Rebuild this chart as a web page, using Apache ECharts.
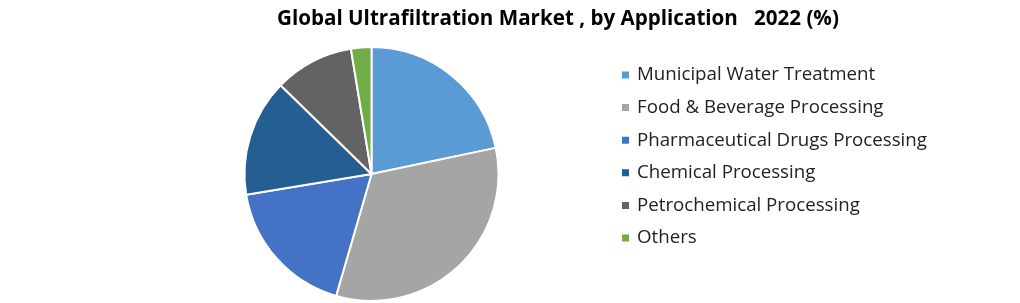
<!DOCTYPE html>
<html><head><meta charset="utf-8">
<script src="https://cdn.jsdelivr.net/npm/echarts@6/dist/echarts.min.js"></script>
<style>html,body{margin:0;padding:0;background:#fff}#c{width:1020px;height:303px}</style>
</head><body><div id="c"></div>
<script>
const categories = ["Municipal Water Treatment","Food & Beverage Processing","Pharmaceutical Drugs Processing","Chemical Processing","Petrochemical Processing","Others"];
const values = [21.7, 32.8, 17.9, 14.9, 10.1, 2.6];
const colors = ["#5B9BD5","#A5A5A5","#4472C4","#255E91","#636363","#70AD47"];
const titleText = "Global Ultrafiltration Market , by Application   2022 (%)";

const chart = echarts.init(document.getElementById('c'), null, {renderer:'canvas'});
chart.setOption({
  animation:false,
  color: colors,
  title:{text:titleText, left:272, top:4,
    textStyle:{fontFamily:'Open Sans', fontWeight:'bold', fontSize:20.6, color:'#000'}},
  legend:{orient:'vertical', left:620, top:65, padding:0, icon:'rect', itemWidth:9, itemHeight:9, itemGap:12.6,
    data:categories,
    textStyle:{fontFamily:'Open Sans', fontSize:18.7, color:'#222', lineHeight:20, padding:[0,0,0,2]}},
  series:[{type:'pie', center:[371.5,174], radius:127, startAngle:90, clockwise:true,
    label:{show:false}, labelLine:{show:false},
    itemStyle:{borderColor:'#fff', borderWidth:2},
    emphasis:{disabled:true},
    data: categories.map((n,i)=>({name:n, value:values[i]}))}]
});
</script></body></html>
